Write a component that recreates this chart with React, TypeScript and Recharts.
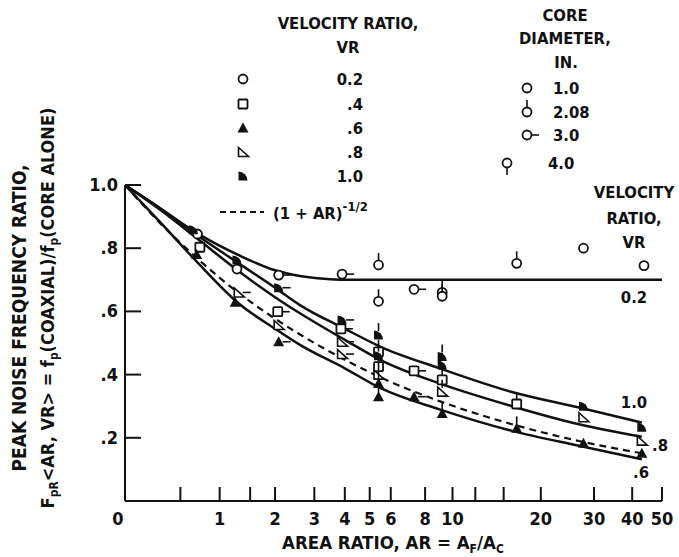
import React from "react";
import { ComposedChart, Line, Scatter, XAxis, YAxis } from "recharts";

// smooth fitted curves (AR, ratio)
const curveAR = [0, 0.3, 0.7, 1.3, 2, 2.6, 4, 5.5, 9, 16, 27, 43];
const curveVR10 = [1.0, 0.925, 0.84, 0.752, 0.675, 0.62, 0.545, 0.488, 0.42, 0.345, 0.295, 0.248];
const curveVR08 = [1.0, 0.92, 0.83, 0.727, 0.645, 0.594, 0.51, 0.446, 0.372, 0.3, 0.242, 0.203];
const curveVR06 = [1.0, 0.88, 0.755, 0.625, 0.545, 0.494, 0.42, 0.357, 0.29, 0.222, 0.174, 0.132];
const curveInvSqrt = [1.0, 0.877, 0.767, 0.658, 0.577, 0.527, 0.447, 0.391, 0.316, 0.243, 0.189, 0.151];
const curveVR02AR = [0, 0.3, 0.7, 1.3, 2, 2.6, 3.3, 4, 50];
const curveVR02 = [1.0, 0.925, 0.847, 0.778, 0.73, 0.712, 0.703, 0.7, 0.7];

// measured points: area ratio, frequency ratio, core diameter (in.)
const vr02AR = [0.7, 1.27, 2.08, 3.9, 5.4, 5.4, 7.3, 9.2, 9.2, 16.6, 27.7, 43.7];
const vr02Ratio = [0.845, 0.734, 0.715, 0.718, 0.747, 0.632, 0.67, 0.66, 0.648, 0.752, 0.8, 0.745];
const vr02Core = [1.0, 1.0, 3.0, 3.0, 2.08, 2.08, 3.0, 2.08, 2.08, 2.08, 1.0, 1.0];

const vr04AR = [0.73, 2.06, 3.86, 5.4, 5.4, 7.3, 9.2, 16.6];
const vr04Ratio = [0.803, 0.599, 0.545, 0.472, 0.425, 0.412, 0.383, 0.307];
const vr04Core = [1.0, 3.0, 3.0, 2.08, 2.08, 3.0, 2.08, 2.08];

const vr06AR = [0.69, 1.24, 2.08, 5.4, 5.4, 7.3, 9.2, 16.6, 27.7, 43];
const vr06Ratio = [0.78, 0.629, 0.504, 0.372, 0.33, 0.33, 0.277, 0.23, 0.183, 0.151];
const vr06Core = [1.0, 1.0, 3.0, 2.08, 2.08, 3.0, 2.08, 2.08, 1.0, 1.0];

const vr08AR = [1.3, 2.08, 3.9, 3.9, 5.4, 9.2, 27.7, 43];
const vr08Ratio = [0.66, 0.557, 0.504, 0.465, 0.4, 0.346, 0.265, 0.191];
const vr08Core = [3.0, 1.0, 3.0, 3.0, 2.08, 2.08, 1.0, 1.0];

const vr10AR = [0.65, 1.27, 2.08, 3.9, 5.4, 5.4, 9.2, 9.2, 27.7, 43];
const vr10Ratio = [0.858, 0.763, 0.675, 0.573, 0.525, 0.46, 0.457, 0.43, 0.3, 0.233];
const vr10Core = [1.0, 1.0, 3.0, 3.0, 2.08, 2.08, 2.08, 2.08, 1.0, 1.0];

const xTickValues = [0, 0.5, 1, 1.5, 2, 3, 4, 5, 6, 8, 10, 12, 15, 20, 30, 40, 50];
const xTickLabels = ["0", "", "1", "", "2", "3", "4", "5", "6", "8", "10", "", "", "20", "30", "40", "50"];
const yTickValues = [0.2, 0.4, 0.6, 0.8, 1.0];
const yTickLabels = [".2", ".4", ".6", ".8", "1.0"];

const FONT = "'DejaVu Sans Condensed','Liberation Sans Narrow','Roboto Condensed','DejaVu Sans',sans-serif";
const INK = "#111";

// axis is log(1 + AR)
const toX = (ar: number) => Math.log10(1 + ar);

const curve = (ars: number[], vals: number[]) => ars.map((a, i) => ({ x: toX(a), v: vals[i] }));
const points = (ars: number[], vals: number[], cores: number[]) =>
  ars.map((a, i) => ({ x: toX(a), v: vals[i], core: cores[i] }));

type Kind = "circle" | "square" | "tri" | "openTri" | "half";

function Marker({ kind, cx, cy, core }: { kind: Kind; cx: number; cy: number; core: number }) {
  const s = 4.5;
  let body: React.ReactNode = null;
  if (kind === "circle") body = <circle cx={cx} cy={cy} r={s} fill="#fff" stroke={INK} strokeWidth={1.8} />;
  if (kind === "square")
    body = <rect x={cx - s} y={cy - s} width={2 * s} height={2 * s} rx={1} fill="#fff" stroke={INK} strokeWidth={1.8} />;
  if (kind === "tri")
    body = <path d={`M${cx},${cy - 5.5} L${cx + 5.5},${cy + 4.5} L${cx - 5.5},${cy + 4.5} Z`} fill={INK} />;
  if (kind === "openTri")
    body = (
      <path d={`M${cx - 4.5},${cy - 4.5} L${cx + 5.5},${cy + 4.5} L${cx - 4.5},${cy + 4.5} Z`} fill="#fff" stroke={INK} strokeWidth={1.6} />
    );
  if (kind === "half")
    body = <path d={`M${cx - 4.5},${cy + 4.5} L${cx - 4.5},${cy - 4.5} A9 9 0 0 1 ${cx + 4.5},${cy + 4.5} Z`} fill={INK} />;
  let tail: React.ReactNode = null;
  if (core === 2.08) tail = <line x1={cx} y1={cy - 4} x2={cx} y2={cy - 12} stroke={INK} strokeWidth={1.6} />;
  if (core === 3.0) tail = <line x1={cx + 4} y1={cy} x2={cx + 12} y2={cy} stroke={INK} strokeWidth={1.6} />;
  if (core === 4.0) tail = <line x1={cx} y1={cy + 4} x2={cx} y2={cy + 12} stroke={INK} strokeWidth={1.6} />;
  return (
    <g>
      {tail}
      {body}
    </g>
  );
}

const shapeFor = (kind: Kind) => (props: any) =>
  <Marker kind={kind} cx={props.cx} cy={props.cy} core={props.payload?.core ?? 1} />;

function XTick(props: any) {
  const { x, y, index } = props;
  const label = xTickLabels[index];
  return (
    <g>
      <line x1={x} y1={y} x2={x} y2={y - 14} stroke={INK} strokeWidth={2} />
      {label && (
        <text x={index === 0 ? x - 7 : x} y={y + 24} textAnchor="middle" fontFamily={FONT} fontWeight={700} fontSize={18} fill={INK}>
          {label}
        </text>
      )}
    </g>
  );
}

function YTick(props: any) {
  const { x, y, index } = props;
  return (
    <g>
      <line x1={x} y1={y} x2={x + 16} y2={y} stroke={INK} strokeWidth={2} />
      <text x={x - 7} y={y + 6} textAnchor="end" fontFamily={FONT} fontWeight={700} fontSize={18} fill={INK}>
        {yTickLabels[index]}
      </text>
    </g>
  );
}

const T = (p: any) => <text fontFamily={FONT} fontWeight={700} fontSize={16.5} fill={INK} {...p} />;

function Overlay() {
  const vrRows: { kind: Kind; label: string; y: number }[] = [
    { kind: "circle", label: "0.2", y: 79 },
    { kind: "square", label: ".4", y: 104 },
    { kind: "tri", label: ".6", y: 128 },
    { kind: "openTri", label: ".8", y: 152 },
    { kind: "half", label: "1.0", y: 176 },
  ];
  const coreRows = [
    { core: 1.0, label: "1.0", x: 527, tx: 553, y: 88 },
    { core: 2.08, label: "2.08", x: 527, tx: 553, y: 112 },
    { core: 3.0, label: "3.0", x: 527, tx: 553, y: 135 },
    { core: 4.0, label: "4.0", x: 507, tx: 548, y: 163 },
  ];
  return (
    <svg width={679} height={557} style={{ position: "absolute", left: 0, top: 0, pointerEvents: "none" }}>
      <T x={348} y={29} textAnchor="middle">VELOCITY RATIO,</T>
      <T x={348} y={53} textAnchor="middle">VR</T>
      {vrRows.map((r) => (
        <g key={r.label}>
          <Marker kind={r.kind} cx={243} cy={r.y} core={1} />
          <T x={363} y={r.y + 6} textAnchor="end">{r.label}</T>
        </g>
      ))}
      <T x={565} y={21} textAnchor="middle">CORE</T>
      <T x={565} y={44} textAnchor="middle">DIAMETER,</T>
      <T x={566} y={68} textAnchor="middle">IN.</T>
      {coreRows.map((r) => (
        <g key={r.label}>
          <Marker kind="circle" cx={r.x} cy={r.y} core={r.core} />
          <T x={r.tx} y={r.y + 6}>{r.label}</T>
        </g>
      ))}
      <line x1={220} y1={212} x2={264} y2={212} stroke={INK} strokeWidth={2} strokeDasharray="6 4" />
      <T x={273} y={219}>
        (1 + AR)
        <tspan fontSize={13} dy={-8}>-1/2</tspan>
      </T>
      <T x={634} y={198} textAnchor="middle">VELOCITY</T>
      <T x={634} y={224} textAnchor="middle">RATIO,</T>
      <T x={634} y={248} textAnchor="middle">VR</T>
      <T x={634} y={303} textAnchor="middle">0.2</T>
      <T x={634} y={408} textAnchor="middle">1.0</T>
      <T x={652} y={451}>.8</T>
      <T x={633} y={478}>.6</T>
      <T x={393} y={549} textAnchor="middle" fontSize={18.5}>
        AREA RATIO, AR = A<tspan fontSize={12} dy={4}>F</tspan>
        <tspan dy={-4}>/A</tspan>
        <tspan fontSize={12} dy={4}>C</tspan>
      </T>
      <T x={20} y={318} textAnchor="middle" transform="rotate(-90 20 318)" dy={6} fontSize={19}>
        PEAK NOISE FREQUENCY RATIO,
      </T>
      <T x={48} y={308} textAnchor="middle" transform="rotate(-90 48 308)" dy={6} fontSize={18}>
        F<tspan fontSize={12} dy={4}>pR</tspan>
        <tspan dy={-4}>{"<AR, VR> = f"}</tspan>
        <tspan fontSize={12} dy={4}>p</tspan>
        <tspan dy={-4}>(COAXIAL)/f</tspan>
        <tspan fontSize={12} dy={4}>p</tspan>
        <tspan dy={-4}>(CORE ALONE)</tspan>
      </T>
    </svg>
  );
}

export default function App() {
  return (
    <div style={{ position: "relative", width: 679, height: 557, background: "#fff" }}>
      <style>{`body{margin:0}`}</style>
      <ComposedChart width={679} height={557} margin={{ top: 185, right: 17, bottom: 26, left: 65 }}>
        <XAxis
          dataKey="x"
          type="number"
          domain={[0, toX(50)]}
          ticks={xTickValues.map(toX)}
          interval={0}
          tickSize={0}
          tickMargin={0}
          tick={<XTick />}
          height={30}
          axisLine={{ stroke: INK, strokeWidth: 2 }}
          allowDataOverflow
        />
        <YAxis
          dataKey="v"
          type="number"
          domain={[0, 1]}
          ticks={yTickValues}
          interval={0}
          tickSize={0}
          tickMargin={0}
          tick={<YTick />}
          width={60}
          axisLine={{ stroke: INK, strokeWidth: 2 }}
        />
        <Line data={curve(curveVR02AR, curveVR02)} dataKey="v" type="monotone" stroke={INK} strokeWidth={2.5} dot={false} isAnimationActive={false} />
        <Line data={curve(curveAR, curveVR10)} dataKey="v" type="monotone" stroke={INK} strokeWidth={2.5} dot={false} isAnimationActive={false} />
        <Line data={curve(curveAR, curveVR08)} dataKey="v" type="monotone" stroke={INK} strokeWidth={2.5} dot={false} isAnimationActive={false} />
        <Line data={curve(curveAR, curveVR06)} dataKey="v" type="monotone" stroke={INK} strokeWidth={2.5} dot={false} isAnimationActive={false} />
        <Line data={curve(curveAR, curveInvSqrt)} dataKey="v" type="monotone" stroke={INK} strokeWidth={2.2} strokeDasharray="7 5" dot={false} isAnimationActive={false} />
        <Scatter data={points(vr02AR, vr02Ratio, vr02Core)} dataKey="v" shape={shapeFor("circle")} isAnimationActive={false} />
        <Scatter data={points(vr04AR, vr04Ratio, vr04Core)} dataKey="v" shape={shapeFor("square")} isAnimationActive={false} />
        <Scatter data={points(vr08AR, vr08Ratio, vr08Core)} dataKey="v" shape={shapeFor("openTri")} isAnimationActive={false} />
        <Scatter data={points(vr06AR, vr06Ratio, vr06Core)} dataKey="v" shape={shapeFor("tri")} isAnimationActive={false} />
        <Scatter data={points(vr10AR, vr10Ratio, vr10Core)} dataKey="v" shape={shapeFor("half")} isAnimationActive={false} />
      </ComposedChart>
      <Overlay />
    </div>
  );
}
